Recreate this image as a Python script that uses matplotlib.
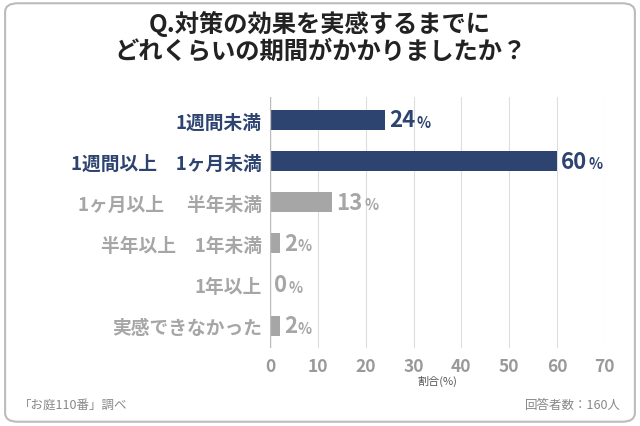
import matplotlib
matplotlib.use("Agg")
import matplotlib.pyplot as plt
from matplotlib.patches import FancyBboxPatch

plt.rcParams['font.family'] = 'Noto Sans CJK JP'

categories = ["1週間未満", "1週間以上　1ヶ月未満", "1ヶ月以上　 半年未満", "半年以上　1年未満", "1年以上", "実感できなかった"]
values = [24, 60, 13, 2, 0, 2]
highlight = [True, True, False, False, False, False]
xticks = [0, 10, 20, 30, 40, 50, 60, 70]

navy = "#2e4470"
gray = "#a6a6a6"

fig = plt.figure(figsize=(6.4, 4.27), dpi=100)
fig.patches.append(FancyBboxPatch((0.008, 0.01), 0.984, 0.98, boxstyle="round,pad=0,rounding_size=0.02",
                                  transform=fig.transFigure, fill=False, edgecolor="#bbbbbb", lw=1.5))
fig.text(0.5, 0.945, "Q.対策の効果を実感するまでに", ha='center', va='center', fontsize=17.5, fontweight='bold', color="#222222")
fig.text(0.5, 0.88, "どれくらいの期間がかかりましたか？", ha='center', va='center', fontsize=17.5, fontweight='bold', color="#222222")

ax = fig.add_axes([0.422, 0.182, 0.523, 0.588])
ys = list(range(len(categories)))
cols = [navy if h else gray for h in highlight]
ax.barh(ys, values, height=0.48, color=cols, zorder=3)
ax.set_ylim(len(categories) - 0.45, -0.55)
ax.set_xlim(0, 70)
ax.set_xticks(xticks)
ax.set_xticklabels([str(t) for t in xticks], fontsize=12.5, fontweight='bold', color="#999999")
ax.set_yticks(ys)
ax.set_yticklabels(categories, fontsize=13.5, fontweight='bold')
for lab, c in zip(ax.get_yticklabels(), cols):
    lab.set_color(c)
ax.tick_params(length=0, pad=6)
ax.grid(axis='x', color="#dddddd", lw=0.8, zorder=0)
for s in ax.spines.values():
    s.set_visible(False)
ax.axvline(0, color="#bbbbbb", lw=1, zorder=4)
ax.set_xlabel("割合(%)", fontsize=8, color="#555555", labelpad=0)

for y, v, c in zip(ys, values, cols):
    s = str(v)
    ax.annotate(s, (v, y), xytext=(3, 0), textcoords='offset points', va='center', ha='left',
                fontsize=16, fontweight='bold', color=c)
    ax.annotate("%", (v, y), xytext=(3 + 10 * len(s), -1.5), textcoords='offset points', va='center', ha='left',
                fontsize=10.5, fontweight='bold', color=c)

fig.text(0.03, 0.05, "「お庭110番」調べ", fontsize=9, color="#888888", va='center', ha='left')
fig.text(0.97, 0.05, "回答者数：160人", fontsize=9, color="#888888", va='center', ha='right')

fig.savefig("out.png", dpi=100, facecolor="white")
